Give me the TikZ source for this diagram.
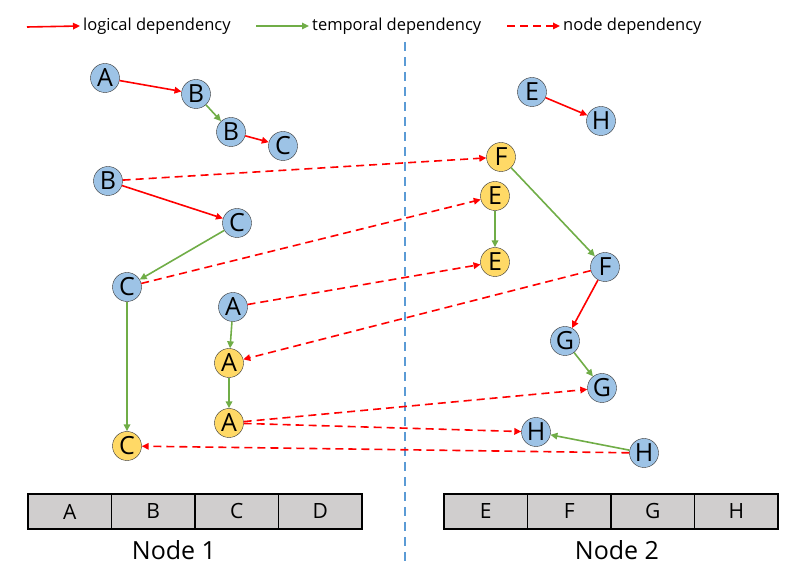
\documentclass[tikz,border=0pt]{standalone}
\usepackage{fontspec}
\setmainfont{Open Sans}
\usepackage{tikz}
\usetikzlibrary{arrows.meta}
\tikzstyle{canvas} = [x = 1pt, y = -1pt]
\definecolor{taskBlue}{RGB}{157,195,230}
\definecolor{taskYellow}{RGB}{255,217,102}
\definecolor{dividerColor}{RGB}{91,155,213}
\definecolor{temporalGreen}{RGB}{112,173,71}
\definecolor{cellGray}{RGB}{208,206,206}
\tikzstyle{taskStyle} = [circle, draw = black!80, minimum size = 29pt, inner sep = 0pt, font = \fontsize{25}{25}\selectfont]
\tikzstyle{depArrow} = [line width = 1.6pt, -{Triangle[length = 7pt, width = 6.5pt]}]
\tikzstyle{logicalDep} = [depArrow, color = red]
\tikzstyle{temporalDep} = [depArrow, color = temporalGreen]
\tikzstyle{nodeDep} = [depArrow, color = red, dash pattern = on 8pt off 5pt]
\tikzstyle{dividerLine} = [color = dividerColor, line width = 2.6pt, dash pattern = on 9pt off 6pt]
\tikzstyle{cellStyle} = [draw, line width = 1.3pt, fill = cellGray, minimum width = 83.5pt, minimum height = 35pt, inner sep = 0pt, font = \fontsize{21}{21}\selectfont]
\tikzstyle{legendText} = [anchor = west, inner sep = 3pt, font = \fontsize{16.5}{18}\selectfont]
\tikzstyle{machineLabel} = [font = \fontsize{25}{25}\selectfont]
\newcommand{\blueTask}[4]{\node [taskStyle, fill = taskBlue] (#1) at (#2, #3) {#4};}
\newcommand{\yellowTask}[4]{\node [taskStyle, fill = taskYellow] (#1) at (#2, #3) {#4};}
\newcommand{\cellRow}[3]{
  \foreach \cellLetter [count = \cellIndex] in {#3} {
    \node [cellStyle] (#1\cellIndex) at (#2 + 83.5 * \cellIndex - 41.75, 511.5) {\cellLetter};
  }
}

\begin{document}
\begin{tikzpicture}[canvas]
  \useasboundingbox (0, 0) rectangle (807, 577);

  % legend
  \coordinate (logicalStart) at (27, 27);
  \node [legendText] (logicalText) at (80, 26) {logical dependency};
  \draw [logicalDep] (logicalStart) -- (logicalText.west);
  \coordinate (temporalStart) at (256, 26);
  \node [legendText] (temporalText) at (309, 26) {temporal dependency};
  \draw [temporalDep] (temporalStart) -- (temporalText.west);
  \coordinate (nodeDepStart) at (507, 26);
  \node [legendText] (nodeDepText) at (560, 26) {node dependency};
  \draw [nodeDep] (nodeDepStart) -- (nodeDepText.west);

  % divider
  \coordinate (dividerTop) at (405, 42);
  \coordinate (dividerBottom) at (405, 566);
  \draw [dividerLine] (dividerTop) -- (dividerBottom);

  % node 1
  \blueTask{a1}{105}{78}{A}
  \blueTask{b1}{196}{94}{B}
  \blueTask{b2}{231}{132}{B}
  \blueTask{c1}{283}{146}{C}
  \blueTask{b3}{108}{181}{B}
  \blueTask{c2}{237}{223}{C}
  \blueTask{c3}{127}{287}{C}
  \blueTask{a2}{233}{307}{A}
  \yellowTask{a3}{229}{363}{A}
  \yellowTask{a4}{229}{423}{A}
  \yellowTask{c4}{127}{446}{C}

  % node 2
  \blueTask{e1}{532}{92}{E}
  \blueTask{h1}{601}{121}{H}
  \yellowTask{f1}{501}{157}{F}
  \yellowTask{e2}{495}{196}{E}
  \yellowTask{e3}{495}{262}{E}
  \blueTask{f2}{605}{267}{F}
  \blueTask{g1}{565}{341}{G}
  \blueTask{g2}{602}{388}{G}
  \blueTask{h2}{536}{432}{H}
  \blueTask{h3}{644}{453}{H}

  \draw [logicalDep] (a1) -- (b1);
  \draw [logicalDep] (b2) -- (c1);
  \draw [logicalDep] (b3) -- (c2);
  \draw [logicalDep] (e1) -- (h1);
  \draw [logicalDep] (f2) -- (g1);

  \draw [temporalDep] (b1) -- (b2);
  \draw [temporalDep] (c2) -- (c3);
  \draw [temporalDep] (c3) -- (c4);
  \draw [temporalDep] (a2) -- (a3);
  \draw [temporalDep] (a3) -- (a4);
  \draw [temporalDep] (f1) -- (f2);
  \draw [temporalDep] (e2) -- (e3);
  \draw [temporalDep] (g1) -- (g2);
  \draw [temporalDep] (h3) -- (h2);

  \draw [nodeDep] (b3) -- (f1);
  \draw [nodeDep] (c3) -- (e2);
  \draw [nodeDep] (a2) -- (e3);
  \draw [nodeDep] (f2) -- (a3);
  \draw [nodeDep] (a4) -- (g2);
  \draw [nodeDep] (a4) -- (h2);
  \draw [nodeDep] (h3) -- (c4);

  % memory cells
  \cellRow{leftCell}{28}{A, B, C, D}
  \cellRow{rightCell}{444}{E, F, G, H}
  \node [machineLabel] (machineOne) at (174, 550) {Node 1};
  \node [machineLabel] (machineTwo) at (617, 550) {Node 2};
\end{tikzpicture}
\end{document}
